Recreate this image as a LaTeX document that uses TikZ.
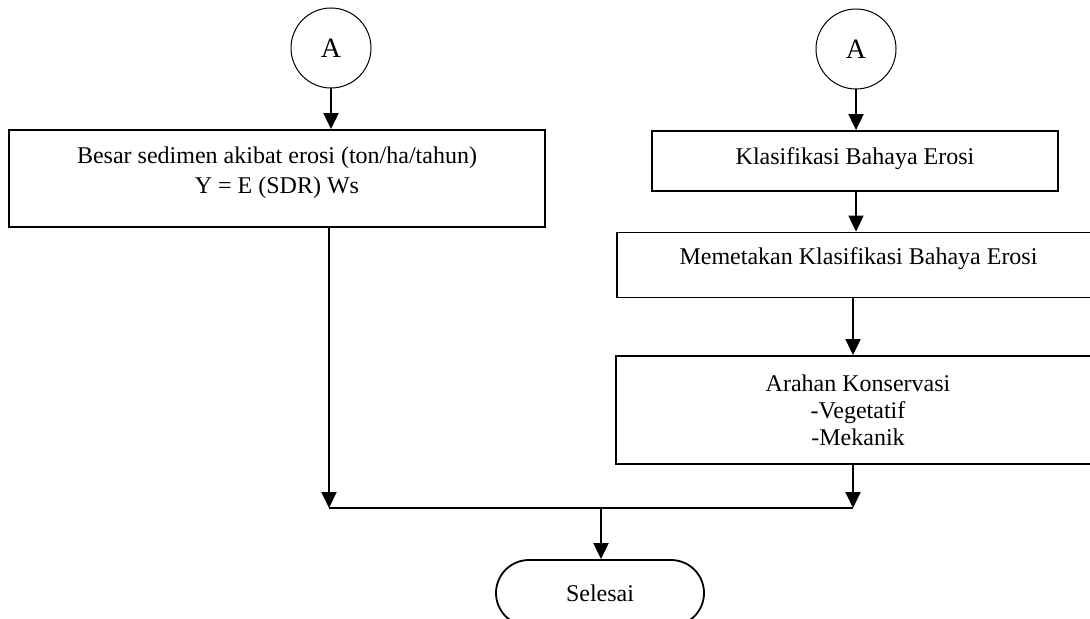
\documentclass[tikz,border=0pt]{standalone}
\usepackage{fontspec}
\setmainfont{Liberation Serif}
\usetikzlibrary{positioning}
\usetikzlibrary{calc}
\usetikzlibrary{arrows.meta}
\tikzset{>={Triangle[width=7.5pt,length=8pt]}}
\tikzset{proc/.style={draw,line width=0.9pt,rectangle,align=center,inner sep=0pt,font=\fontsize{12}{15}\selectfont}}
\tikzset{conn/.style={draw,circle,line width=0.5pt,minimum size=40pt,inner sep=0pt,font=\fontsize{14}{16}\selectfont}}
\tikzset{term/.style={draw,line width=0.9pt,rectangle,rounded corners=16.5pt,minimum width=104pt,minimum height=33pt,font=\fontsize{12}{15}\selectfont}}
\tikzset{flow/.style={->,line width=1pt}}

\begin{document}
\begin{tikzpicture}[x=0.5pt,y=-0.5pt]
\useasboundingbox (0,0) rectangle (1090,619);

\node[conn] (a1) at (331,48) {A};
\node[conn] (a2) at (856,49) {A};

\node[proc,minimum width=268pt,minimum height=48.5pt,text depth=8.5pt] (sed) at (277,178.5)
 {Besar sedimen akibat erosi (ton/ha/tahun)\\Y = E (SDR) Ws};
\node[proc,minimum width=203pt,minimum height=30pt,text depth=5pt] (kla) at (855,161) {Klasifikasi Bahaya Erosi};
\node[proc,minimum width=241.5pt,minimum height=32.5pt,text depth=8.5pt] (mem) at (858.5,265) {Memetakan Klasifikasi Bahaya Erosi};
\node[proc,minimum width=242pt,minimum height=54pt,font=\fontsize{12}{13.5}\selectfont] (ara) at (858,410)
 {Arahan Konservasi\\-Vegetatif\\-Mekanik};
\node[term] (sel) at (600,593) {Selesai};

\coordinate (jl) at (329,508);
\coordinate (jr) at (853,508);
\coordinate (jm) at (601,508);

\draw[flow] (a1) -- (a1 |- sed.north);
\draw[flow] (a2) -- (a2 |- kla.north);
\draw[flow] (kla.south -| a2) -- (a2 |- mem.north);
\draw[flow] (mem.south -| jr) -- (jr |- ara.north);

\draw[flow] (sed.south -| jl) -- (jl);
\draw[flow] (ara.south -| jr) -- (jr);
\draw[line width=1pt] (jl) -- (jr);
\draw[flow] (jm) -- (jm |- sel.north);
\end{tikzpicture}
\end{document}
